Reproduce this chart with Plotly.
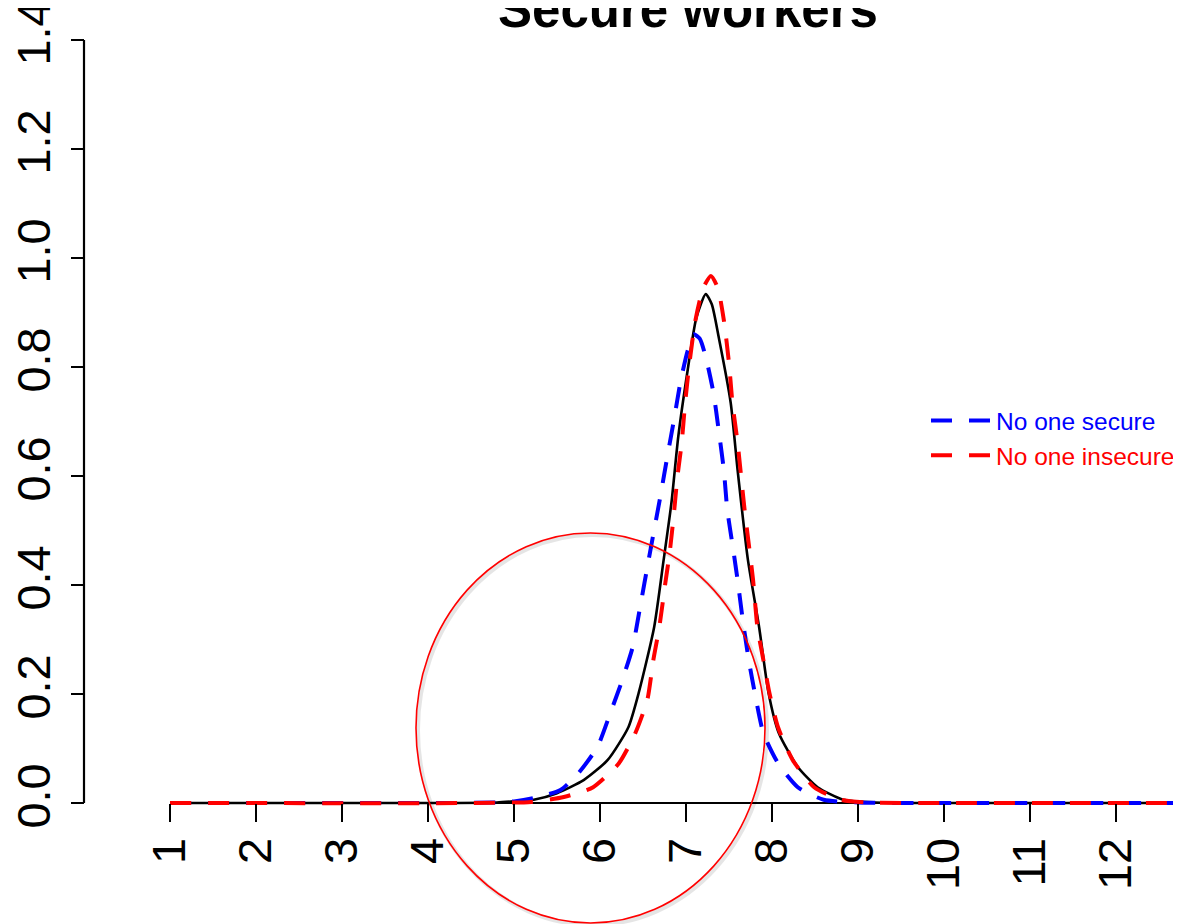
import plotly.graph_objects as go

# ---------------- data ----------------
title_text = "Secure workers"
x_ticks = [1, 2, 3, 4, 5, 6, 7, 8, 9, 10, 11, 12]
y_ticks = [0.0, 0.2, 0.4, 0.6, 0.8, 1.0, 1.2, 1.4]
y_tick_labels = ["0.0", "0.2", "0.4", "0.6", "0.8", "1.0", "1.2", "1.4"]

# observed (black solid)
obs_x = [1, 4, 4.8, 5.0, 5.23, 5.5, 5.81, 6.09, 6.33, 6.45, 6.63, 6.74, 6.83, 6.91,
         7.02, 7.12, 7.23, 7.30, 7.38, 7.52, 7.60, 7.72, 7.85, 7.96, 8.08, 8.3, 8.53,
         8.83, 9.2, 10, 13]
obs_y = [0, 0, 0.001, 0.003, 0.006, 0.018, 0.042, 0.079, 0.139, 0.202, 0.323, 0.446,
         0.55, 0.672, 0.795, 0.89, 0.934, 0.915, 0.855, 0.734, 0.611, 0.446, 0.323,
         0.202, 0.128, 0.066, 0.029, 0.006, 0.001, 0, 0]

# "No one secure" (blue dashed)
sec_name = "No one secure"
sec_x = [1, 4, 4.8, 5.0, 5.23, 5.54, 5.75, 5.97, 6.12, 6.26, 6.38, 6.46, 6.57, 6.70,
         6.79, 6.86, 6.94, 7.02, 7.09, 7.16, 7.23, 7.32, 7.38, 7.44, 7.48, 7.55, 7.60,
         7.66, 7.73, 7.80, 7.90, 8.07, 8.3, 8.6, 9.0, 10, 13]
sec_y = [0, 0, 0.001, 0.003, 0.009, 0.024, 0.055, 0.103, 0.165, 0.226, 0.286, 0.354,
         0.45, 0.561, 0.642, 0.703, 0.776, 0.83, 0.860, 0.852, 0.818, 0.752, 0.684,
         0.611, 0.538, 0.464, 0.409, 0.336, 0.262, 0.202, 0.128, 0.073, 0.029, 0.006,
         0.001, 0, 0]

# "No one insecure" (red dashed)
ins_name = "No one insecure"
ins_x = [1, 4.5, 5.2, 5.58, 5.92, 6.22, 6.41, 6.55, 6.62, 6.69, 6.76, 6.81, 6.86, 6.90,
         6.95, 6.99, 7.04, 7.11, 7.20, 7.29, 7.37, 7.44, 7.50, 7.54, 7.60, 7.68, 7.78,
         7.83, 7.90, 7.97, 8.07, 8.24, 8.49, 8.8, 9.1, 10, 13]
ins_y = [0, 0, 0.002, 0.011, 0.029, 0.073, 0.128, 0.189, 0.262, 0.323, 0.404, 0.459,
         0.532, 0.598, 0.661, 0.734, 0.807, 0.886, 0.945, 0.967, 0.945, 0.886, 0.807,
         0.734, 0.661, 0.54, 0.409, 0.323, 0.262, 0.202, 0.139, 0.079, 0.029, 0.006,
         0.001, 0, 0]

# ---------------- layout geometry ----------------
OFF = 8                      # page body margin in the browser
SCREEN_W, SCREEN_H = 1181, 924
W, H = SCREEN_W - OFF, SCREEN_H - OFF
ML, MR, MT, MB = 62, 0, 22, 97
PX_PER_X = 86.0              # pixels per x unit
X0_PX = 84.0 - OFF           # figure column of x = 0
PX_PER_Y = 545.0             # pixels per y unit
Y0_PX = 803.0 - OFF          # figure row of y = 0

plot_w = W - ML - MR
plot_h = H - MT - MB
x_min = (ML - X0_PX) / PX_PER_X
x_max = (W - MR - X0_PX) / PX_PER_X
y_max = (Y0_PX - MT) / PX_PER_Y
y_min = (Y0_PX - (H - MB)) / PX_PER_Y


def px_to_paper_x(px):
    """screen pixel column -> paper fraction"""
    return (px - OFF - ML) / plot_w


def px_to_paper_y(py):
    """screen pixel row -> paper fraction"""
    return ((H - MB) - (py - OFF)) / plot_h


font_family = "Liberation Sans, Arial, sans-serif"
dash = "21px,17px"

fig = go.Figure()
fig.add_trace(go.Scatter(x=obs_x, y=obs_y, mode="lines", line=dict(color="black", width=2.6,
                         shape="spline", smoothing=0.6), showlegend=False, name="Observed"))
fig.add_trace(go.Scatter(x=sec_x, y=sec_y, mode="lines",
                         line=dict(color="#0000FF", width=4, dash=dash, shape="spline", smoothing=0.6),
                         name='<span style="color:#0000FF">' + sec_name + '</span>'))
fig.add_trace(go.Scatter(x=ins_x, y=ins_y, mode="lines",
                         line=dict(color="#FF0000", width=4, dash=dash, shape="spline", smoothing=0.6),
                         name='<span style="color:#FF0000">' + ins_name + '</span>'))

shapes = [
    # axis lines (R style: span first..last tick)
    dict(type="line", xref="x", yref="y", x0=x_ticks[0], x1=x_max, y0=0, y1=0,
         line=dict(color="black", width=2.2), layer="below"),
    dict(type="line", xref="x", yref="y", x0=0, x1=0, y0=y_ticks[0], y1=y_ticks[-1],
         line=dict(color="black", width=2.2), layer="below"),
    # hand-drawn highlight ellipse (shadow + red outline)
    dict(type="circle", xref="paper", yref="paper",
         x0=px_to_paper_x(418), x1=px_to_paper_x(767),
         y0=px_to_paper_y(925), y1=px_to_paper_y(535),
         line=dict(color="rgba(0,0,0,0.10)", width=4), layer="above"),
    dict(type="circle", xref="paper", yref="paper",
         x0=px_to_paper_x(416), x1=px_to_paper_x(765),
         y0=px_to_paper_y(923), y1=px_to_paper_y(533),
         line=dict(color="#FF0000", width=1.6), layer="above"),
]

fig.update_layout(
    template="none",
    width=W, height=H,
    margin=dict(l=ML, r=MR, t=MT, b=MB, pad=0, autoexpand=False),
    paper_bgcolor="white", plot_bgcolor="white",
    font=dict(family=font_family, color="black"),
    shapes=shapes,
    showlegend=True,
    legend=dict(x=px_to_paper_x(926), y=px_to_paper_y(398), xanchor="left", yanchor="top",
                font=dict(size=24.5, family=font_family), bgcolor="rgba(0,0,0,0)",
                borderwidth=0, itemwidth=60, tracegroupgap=0),
    xaxis=dict(range=[x_min, x_max], tickvals=x_ticks, ticktext=[str(v) for v in x_ticks],
               ticks="outside", ticklen=18, tickwidth=2.2, tickcolor="black",
               tickangle=-90, tickfont=dict(size=47, family=font_family),
               showgrid=False, zeroline=False, showline=False, automargin=False,
               anchor="free", position=px_to_paper_y(803), ticklabelstandoff=-3,
               ticklabeloverflow="allow"),
    yaxis=dict(range=[y_min, y_max], tickvals=y_ticks, ticktext=y_tick_labels,
               ticks="outside", ticklen=13, tickwidth=2.2, tickcolor="black",
               tickangle=-90, tickfont=dict(size=47, family=font_family),
               showgrid=False, zeroline=False, showline=False, automargin=False,
               anchor="free", position=px_to_paper_x(84), ticklabelstandoff=2,
               ticklabeloverflow="allow"),
    annotations=[dict(text="<b>" + title_text + "</b>", xref="paper", yref="paper",
                      x=px_to_paper_x(688), y=px_to_paper_y(9), xanchor="center", yanchor="middle",
                      showarrow=False, font=dict(size=51, family=font_family, color="black"))],
)

fig.write_html("out.html")
